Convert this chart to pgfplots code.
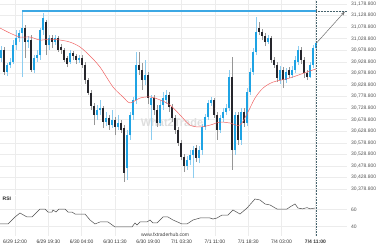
\documentclass[border=0pt]{standalone}
\usepackage{pgfplots}
\pgfplotsset{compat=1.18}
\usepackage{pgfplotstable}
\usepackage{fontspec}
\setmainfont{Liberation Sans}
\usetikzlibrary{arrows.meta}
\definecolor{upc}{RGB}{30,163,228}
\definecolor{upw}{RGB}{140,205,240}
\definecolor{dnc}{RGB}{38,38,44}
\definecolor{dnw}{RGB}{150,150,150}
\definecolor{gridc}{RGB}{236,236,236}
\definecolor{labc}{RGB}{85,85,85}
\definecolor{mac}{RGB}{240,100,100}
\definecolor{resc}{RGB}{60,168,228}
\definecolor{vlc}{RGB}{70,100,110}
\definecolor{arrc}{RGB}{110,110,110}
\definecolor{wmc}{RGB}{222,222,222}

\pgfplotstableread{
i o h l c
0 30945 30997 30928 30980
1 30980 30993 30872 30885
2 30885 30924 30867 30915
3 30915 30945 30902 30928
4 30928 31023 30919 31001
5 31001 31066 30980 31032
6 31032 31066 31014 31053
7 31053 31148 30863 31075
8 31075 31088 30945 31014
9 31014 31040 30988 31023
10 31023 31045 30885 30893
11 30893 30958 30880 30945
12 30945 30980 30928 30958
13 30958 31075 30937 31066
14 31066 31140 31045 31118
15 31101 31110 30958 31001
16 31001 31045 30980 31032
17 31032 31045 30988 31014
18 31014 31045 31001 31032
19 31032 31040 30971 30980
20 30993 31006 30963 30980
21 30980 30988 30928 30937
22 30945 30954 30906 30919
23 30928 30980 30919 30967
24 30967 30975 30937 30954
25 30954 30963 30919 30937
26 30937 30958 30924 30945
27 30945 30958 30902 30915
28 30915 30928 30833 30850
29 30850 30859 30785 30794
30 30794 30807 30720 30738
31 30738 30751 30655 30699
32 30699 30742 30677 30720
33 30720 30764 30699 30729
34 30729 30738 30642 30668
35 30668 30712 30651 30686
36 30686 30699 30634 30655
37 30655 30720 30642 30677
38 30677 30690 30612 30647
39 30647 30699 30634 30664
40 30664 30677 30621 30634
41 30642 30655 30409 30448
42 30469 30634 30418 30612
43 30612 30712 30591 30699
44 30699 30777 30677 30764
45 30764 30971 30746 30915
46 30915 30971 30872 30893
47 30893 30924 30807 30850
48 30850 30937 30829 30872
49 30872 30885 30746 30772
50 30742 30785 30591 30772
51 30772 30785 30699 30720
52 30720 30742 30647 30664
53 30664 30764 30651 30742
54 30742 30798 30720 30772
55 30764 30807 30746 30785
56 30785 30798 30712 30733
57 30733 30746 30668 30686
58 30686 30699 30617 30634
59 30634 30647 30565 30578
60 30578 30591 30504 30517
61 30517 30530 30452 30478
62 30478 30521 30461 30504
63 30504 30547 30482 30526
64 30526 30564 30426 30547
65 30556 30569 30495 30513
66 30513 30564 30491 30547
67 30547 30660 30526 30647
68 30647 30703 30634 30690
69 30690 30764 30677 30751
70 30751 30777 30738 30764
71 30764 30772 30686 30699
72 30699 30712 30591 30634
73 30634 30699 30621 30686
74 30686 30729 30668 30712
75 30712 30746 30699 30729
76 30729 30893 30716 30863
77 30863 30950 30461 30547
78 30547 30712 30526 30699
79 30699 30712 30569 30591
80 30591 30729 30569 30712
81 30712 30729 30647 30664
82 30664 30815 30651 30798
83 30798 30902 30785 30885
84 30885 30988 30872 30971
85 30971 31122 30958 31058
86 31075 31101 31045 31058
87 31058 31071 31023 31040
88 31040 31053 30997 31014
89 31014 31045 31006 31032
90 31032 31040 30924 30937
91 30937 30950 30902 30915
92 30915 30928 30841 30859
93 30850 30911 30833 30893
94 30893 30906 30815 30850
95 30850 30902 30837 30885
96 30893 30906 30859 30872
97 30872 30911 30859 30893
98 30893 30954 30880 30937
99 30928 30997 30915 30980
100 30980 30993 30919 30937
101 30937 30950 30859 30880
102 30880 30893 30850 30863
103 30863 30928 30859 30915
104 30915 31001 30902 30988
105 30988 31019 30980 31010
}\candles

\pgfplotstableread{
x m
-0.33 31075
3 31053
6.33 31036
9.67 31036
13 31023
16.33 31027
19.67 31023
23 31014
26.33 30993
29.67 30954
33 30906
37.33 30820
40.67 30777
43 30751
46.33 30772
49.67 30777
53 30764
56.33 30742
59.67 30699
63 30655
66.33 30647
69.67 30655
73 30668
76.33 30664
79.67 30655
82.33 30712
84.67 30772
87.33 30815
90.67 30841
96.33 30859
102 30885
105 30898
}\ma

\pgfplotstableread{
x r
-0.33 42.8
2.33 42.8
4.67 51.2
6.33 56.0
8.67 51.2
10.33 51.2
12 57.2
13 60.8
14.67 60.8
15.67 57.2
17 57.2
17.33 59.6
18.33 57.2
19.33 60.8
21.33 60.8
22.33 57.2
23.67 57.2
24.67 54.8
28 54.8
29.67 47.6
31.33 42.8
33 45.2
35.67 45.2
38 39.2
43.67 39.2
44.67 44.0
45.33 41.6
46.33 45.2
48.67 45.2
49.67 47.6
50.67 44.0
52 44.0
54 51.2
55.67 51.2
57.33 47.6
60.33 42.8
62 42.8
64 47.6
66.33 50.0
69.67 50.0
70.67 48.8
72 50.0
73.67 53.6
75.67 53.6
77.33 59.6
79.67 54.8
82 62.0
84.67 72.9
86.33 71.7
88 66.9
89.67 65.7
92 60.8
95.33 60.8
96.33 63.3
98 66.9
99 62.0
100.5 61.0
102 62.5
103 61.0
104.67 62.0
}\rsi

\pgfplotsset{base/.style={
  scale only axis, width=347pt,
  xmin=-0.333, xmax=115.333,
  axis line style={draw=none},
  major tick length=0pt,
  xmajorgrids, ymajorgrids,
  grid style={gridc, line width=0.4pt},
  xtick={4.67,15.78,26.89,38.0,49.1,60.2,71.3,82.4,93.5,104.8},
  yticklabel pos=right,
  scaled y ticks=false,
  /pgf/number format/assume math mode=true,
  y tick label style={font=\fontsize{5}{6}\selectfont, text=labc, anchor=west, inner sep=0pt, xshift=4pt},
}}

\begin{document}
\begin{tikzpicture}
\useasboundingbox (0pt,0pt) rectangle (380pt,250pt);
\begin{axis}[base,
  at={(0pt,55pt)}, anchor=south west, height=195pt,
  ymin=30352.7, ymax=31196.1,
  xticklabels={},
  ytick={30378.8,30428.8,30478.8,30528.8,30578.8,30628.8,30678.8,30728.8,30778.8,30828.8,30878.8,30928.8,30978.8,31028.8,31078.8,31128.8,31178.8},
  yticklabel style={/pgf/number format/fixed, /pgf/number format/fixed zerofill, /pgf/number format/precision=3, /pgf/number format/1000 sep={,}},
]
\node[text=wmc, font=\bfseries\fontsize{11}{12}\selectfont] at (axis cs:57,30668) {What2Trade};
% wicks
\addplot[upw, line width=0.6pt, quiver={u=0, v=\thisrow{h}-\thisrow{l}},
  restrict expr to domain={\thisrow{c}-\thisrow{o}}{0:100000}] table[x=i, y=l] {\candles};
\addplot[dnw, line width=0.6pt, quiver={u=0, v=\thisrow{h}-\thisrow{l}},
  restrict expr to domain={\thisrow{c}-\thisrow{o}}{-100000:0}] table[x=i, y=l] {\candles};
% bodies
\addplot[upc, line width=2.1pt, quiver={u=0, v=\thisrow{c}-\thisrow{o}},
  restrict expr to domain={\thisrow{c}-\thisrow{o}}{0:100000}] table[x=i, y=o] {\candles};
\addplot[dnc, line width=2.1pt, quiver={u=0, v=\thisrow{c}-\thisrow{o}},
  restrict expr to domain={\thisrow{c}-\thisrow{o}}{-100000:0}] table[x=i, y=o] {\candles};
% moving average
\addplot[mac, line width=0.5pt, smooth] table[x=x, y=m] {\ma};
% resistance
\addplot[resc, line width=1.1pt] coordinates {(7,31148.6) (105,31148.6)};
\addplot[vlc, densely dotted, line width=0.5pt] coordinates {(105,31148.6) (115.3,31148.6)};
\addplot[vlc, densely dotted, line width=0.6pt] coordinates {(105,30352.7) (105,31196.1)};
\addplot[arrc, line width=0.5pt, -{Stealth[length=4pt,width=3pt]}] coordinates {(105.3,31012) (114.6,31146)};
\end{axis}

\begin{axis}[base,
  at={(0pt,14pt)}, anchor=south west, height=40pt,
  ymin=28.3, ymax=76.5,
  ytick={40,60},
  xticklabels={6/29 12:00,6/29 19:30,6/30 04:00,6/30 11:30,6/30 19:00,7/1 03:30,7/1 11:00,7/1 18:30,7/4 03:00,\textbf{7/4 11:00}},
  x tick label style={font=\fontsize{5}{6}\selectfont, text=black!80, inner sep=0pt, yshift=-3.5pt},
]
\addplot[black!70, line width=0.5pt] table[x=x, y=r] {\rsi};
\addplot[vlc, densely dotted, line width=0.6pt] coordinates {(105,28.3) (105,76.5)};
\node[anchor=west, font=\bfseries\fontsize{5}{6}\selectfont, text=black!85] at (axis cs:-0.6,73) {RSI};
\node[font=\fontsize{5}{6}\selectfont, text=black!75] at (axis cs:54.7,29.6) {www.fxtraderhub.com};
\end{axis}
\end{tikzpicture}
\end{document}
